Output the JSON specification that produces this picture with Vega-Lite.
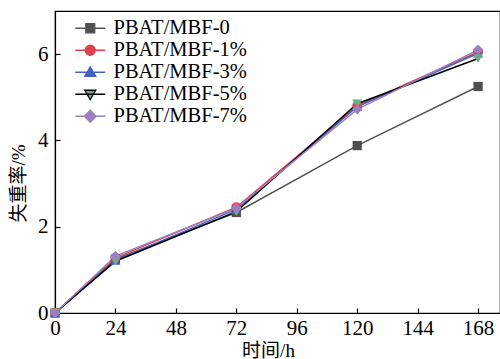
{
  "$schema": "https://vega.github.io/schema/vega-lite/v6.json",
  "width": 445,
  "height": 302,
  "autosize": "none",
  "padding": {"left": 55, "top": 11, "right": 0, "bottom": 46},
  "config": {
    "view": {"stroke": "black", "strokeWidth": 1.2},
    "font": "Liberation Serif, Times New Roman, Times, Tinos, Noto Serif, DejaVu Serif, serif",
    "axis": {
      "grid": false,
      "domainColor": "black",
      "domainWidth": 1.2,
      "tickColor": "black",
      "tickWidth": 1.2,
      "labelColor": "black",
      "titleColor": "black",
      "labelFont": "Liberation Serif, Times New Roman, Times, Tinos, Noto Serif, DejaVu Serif, serif",
      "labelFontSize": 21,
      "titleFont": "Liberation Serif, Times New Roman, Noto Sans CJK SC, serif",
      "titleFontSize": 19,
      "titleFontWeight": "normal"
    },
    "legend": {
      "title": null,
      "orient": "none",
      "legendX": 25,
      "legendY": 7,
      "labelFont": "Liberation Serif, Times New Roman, Times, Tinos, Noto Serif, DejaVu Serif, serif",
      "labelFontSize": 20.5,
      "labelColor": "black",
      "labelOffset": 13,
      "symbolSize": 100,
      "rowPadding": 1,
      "padding": 0,
      "symbolStrokeWidth": 1.3,
      "symbolOpacity": 1
    }
  },
  "data": {
    "values": [
      {"t": 0, "v": 0, "s": "PBAT/MBF-0"},
      {"t": 24, "v": 1.25, "s": "PBAT/MBF-0"},
      {"t": 72, "v": 2.33, "s": "PBAT/MBF-0"},
      {"t": 120, "v": 3.88, "s": "PBAT/MBF-0"},
      {"t": 168, "v": 5.25, "s": "PBAT/MBF-0"},
      {"t": 0, "v": 0, "s": "PBAT/MBF-1%"},
      {"t": 24, "v": 1.28, "s": "PBAT/MBF-1%"},
      {"t": 72, "v": 2.45, "s": "PBAT/MBF-1%"},
      {"t": 120, "v": 4.8, "s": "PBAT/MBF-1%"},
      {"t": 168, "v": 6.05, "s": "PBAT/MBF-1%"},
      {"t": 0, "v": 0, "s": "PBAT/MBF-3%"},
      {"t": 24, "v": 1.22, "s": "PBAT/MBF-3%"},
      {"t": 72, "v": 2.4, "s": "PBAT/MBF-3%"},
      {"t": 120, "v": 4.78, "s": "PBAT/MBF-3%"},
      {"t": 168, "v": 6.02, "s": "PBAT/MBF-3%"},
      {"t": 0, "v": 0, "s": "PBAT/MBF-5%"},
      {"t": 24, "v": 1.2, "s": "PBAT/MBF-5%"},
      {"t": 72, "v": 2.35, "s": "PBAT/MBF-5%"},
      {"t": 120, "v": 4.85, "s": "PBAT/MBF-5%"},
      {"t": 168, "v": 5.9, "s": "PBAT/MBF-5%"},
      {"t": 0, "v": 0, "s": "PBAT/MBF-7%"},
      {"t": 24, "v": 1.32, "s": "PBAT/MBF-7%"},
      {"t": 72, "v": 2.43, "s": "PBAT/MBF-7%"},
      {"t": 120, "v": 4.72, "s": "PBAT/MBF-7%"},
      {"t": 168, "v": 6.1, "s": "PBAT/MBF-7%"}
    ]
  },
  "encoding": {
    "x": {
      "field": "t", "type": "quantitative",
      "scale": {"domain": [0, 176.7], "nice": false, "zero": false},
      "axis": {"values": [0, 24, 48, 72, 96, 120, 144, 168], "title": "时间/h", "tickSize": -5, "labelPadding": 9, "labelFlush": false, "titleX": 213, "titleY": 47, "titleBaseline": "bottom"}
    },
    "y": {
      "field": "v", "type": "quantitative",
      "scale": {"domain": [0, 7], "nice": false},
      "axis": {"values": [0, 2, 4, 6], "title": "失重率/%", "tickSize": -5, "labelPadding": 12, "labelFlush": false, "titleX": -27, "titleY": 172, "titleBaseline": "bottom"}
    }
  },
  "layer": [
    {
      "mark": {"type": "line", "strokeWidth": 1.5},
      "encoding": {
        "stroke": {
          "field": "s", "type": "nominal",
          "scale": {"domain": ["PBAT/MBF-0", "PBAT/MBF-1%", "PBAT/MBF-3%", "PBAT/MBF-5%", "PBAT/MBF-7%"], "range": ["#555555", "#e0404c", "#3f62c4", "#000000", "#9c80c2"]}
        }
      }
    },
    {
      "transform": [{"filter": "datum.t < 0"}],
      "mark": {"type": "point", "filled": true},
      "encoding": {
        "fill": {
          "field": "s", "type": "nominal",
          "scale": {"domain": ["PBAT/MBF-0", "PBAT/MBF-1%", "PBAT/MBF-3%", "PBAT/MBF-5%", "PBAT/MBF-7%"], "range": ["#4f4f4f", "#e0404c", "#3f62c4", "#6aae7e", "#9a80c0"]}
        },
        "shape": {
          "field": "s", "type": "nominal",
          "scale": {"domain": ["PBAT/MBF-0", "PBAT/MBF-1%", "PBAT/MBF-3%", "PBAT/MBF-5%", "PBAT/MBF-7%"], "range": ["M-3,0H3M-0.9,-0.9H0.9V0.9H-0.9Z", "M-3,0H3M-1,0A1,1 0 1,0 1,0A1,1 0 1,0 -1,0Z", "M-3,0H3M0,-1.1L1.1,0.8H-1.1Z", "M-3,0H3M0,1.1L1.1,-0.8H-1.1Z", "M-3,0H3M0,-1.2L1.2,0L0,1.2L-1.2,0Z"]}
        }
      }
    },
    {
      "transform": [{"filter": "datum.s === 'PBAT/MBF-0'"}],
      "mark": {"type": "point", "filled": true, "opacity": 1, "size": 85, "shape": "square", "color": "#4f4f4f"}
    },
    {
      "transform": [{"filter": "datum.s === 'PBAT/MBF-1%'"}],
      "mark": {"type": "point", "filled": true, "opacity": 1, "size": 100, "shape": "circle", "color": "#e0404c"}
    },
    {
      "transform": [{"filter": "datum.s === 'PBAT/MBF-3%'"}],
      "mark": {"type": "point", "filled": true, "opacity": 1, "size": 100, "shape": "triangle-up", "color": "#3f62c4"}
    },
    {
      "transform": [{"filter": "datum.s === 'PBAT/MBF-5%'"}],
      "mark": {"type": "point", "filled": true, "opacity": 1, "size": 100, "shape": "triangle-down", "color": "#6aae7e"}
    },
    {
      "transform": [{"filter": "datum.s === 'PBAT/MBF-7%'"}],
      "mark": {"type": "point", "filled": true, "opacity": 1, "size": 110, "shape": "diamond", "color": "#9a80c0"}
    }
  ]
}
